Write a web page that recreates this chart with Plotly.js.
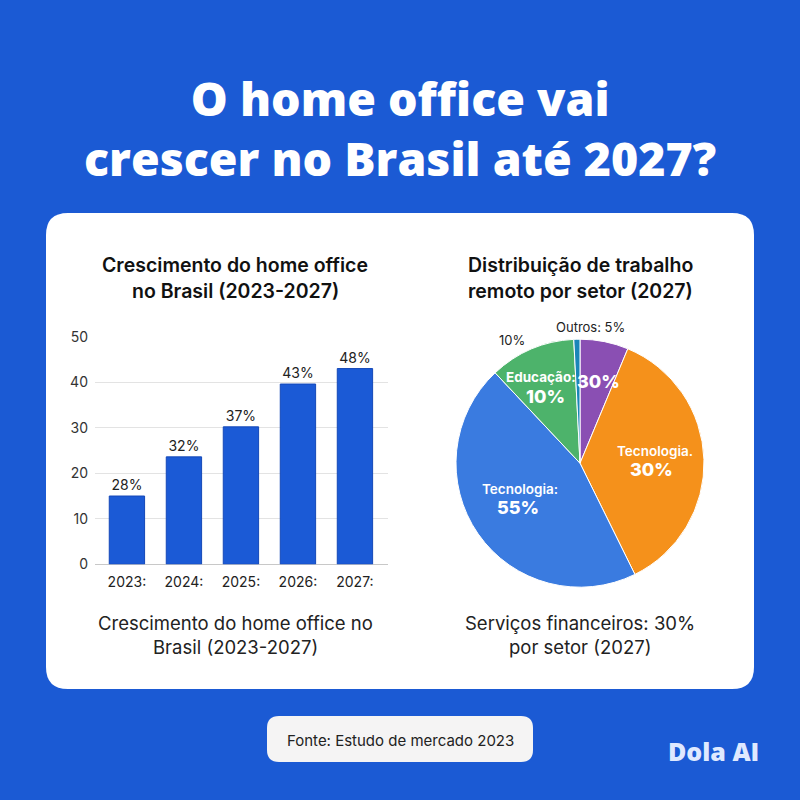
<!DOCTYPE html>
<html><head><meta charset="utf-8">
<script src="https://cdn.plot.ly/plotly-3.0.1.min.js"></script>
<style>html,body{margin:0;padding:0;background:#1b5ad4;}#chart{width:800px;height:800px;}</style>
</head><body><div id="chart"></div>
<script>
// Bar chart data
const years = ["2023:", "2024:", "2025:", "2026:", "2027:"];
const barValues = [15.0, 23.6, 30.2, 39.6, 43.0];
const barLabels = ["28%", "32%", "37%", "43%", "48%"];
const yTicks = [0, 10, 20, 30, 40, 50];

// Pie chart data
const sectors = ["Outros", "Tecnologia.", "Tecnologia:", "Educação:", "Outro setor"];
const sectorShares = [6.3, 36.4, 45.3, 11.2, 0.8];
const sectorColors = ["#8a4fb3", "#f5911b", "#3a7be0", "#4db36b", "#1a86b8"];

const FONT = "Inter, 'Open Sans', sans-serif";
const HEAVY = "'Open Sans', Inter, sans-serif";

const bar = {
  type: "bar", x: years, y: barValues, text: barLabels,
  textposition: "outside", cliponaxis: false,
  textfont: {family: FONT, size: 14, color: "#222"},
  marker: {color: "#1b5ad6", line: {color: "#1448b8", width: 1}},
  width: 0.62, xaxis: "x", yaxis: "y", hoverinfo: "none"
};
const pie = {
  type: "pie", labels: sectors, values: sectorShares, sort: false,
  direction: "clockwise", rotation: 0, textinfo: "none",
  marker: {colors: sectorColors, line: {color: "#ffffff", width: 1}},
  domain: {x: [0.57, 0.88], y: [0.266, 0.576]}, showlegend: false, hoverinfo: "none"
};

function ann(x, y, text, size, color, weight, family) {
  return {xref: "paper", yref: "paper", x: x / 800, y: 1 - y / 800,
    text: text, showarrow: false, xanchor: "center", yanchor: "middle",
    font: {family: family || FONT, size: size, color: color, weight: weight || 400}};
}

const annotations = [
  ann(400, 128, "O home office vai<br>crescer no Brasil até 2027?", 46.5, "#ffffff", 800, HEAVY),
  ann(235, 265, "Crescimento do home office", 19.5, "#111", 600),
  ann(235, 291, "no Brasil (2023-2027)", 19.5, "#111", 600),
  ann(580, 265, "Distribuição de trabalho", 19.5, "#111", 600),
  ann(580, 291, "remoto por setor (2027)", 19.5, "#111", 600),
  ann(235, 623, "Crescimento do home office no", 18.5, "#222", 400),
  ann(235, 647, "Brasil (2023-2027)", 18.5, "#222", 400),
  ann(580, 623, "Serviços financeiros: 30%", 18.5, "#222", 400),
  ann(580, 647, "por setor (2027)", 18.5, "#222", 400),
  ann(400, 740, "Fonte: Estudo de mercado 2023", 15, "#222", 400),
  ann(713, 751, "Dola AI", 25, "#dfe9ff", 800, HEAVY),
  // pie labels
  ann(590, 327, "Outros: 5%", 13, "#222", 400),
  ann(512, 340, "10%", 13, "#222", 400),
  ann(541, 377, "Educação:", 13.5, "#fff", 700),
  ann(545, 396, "10%", 18, "#fff", 800),
  ann(598, 381, "30%", 18, "#fff", 800),
  ann(655, 451, "Tecnologia.", 13.5, "#fff", 600),
  ann(651, 469, "30%", 18, "#fff", 800),
  ann(520, 489, "Tecnologia:", 13.5, "#fff", 600),
  ann(518, 507, "55%", 18, "#fff", 800)
];

function rrect(x0, y0, x1, y1, r) {
  const X = v => v / 800, Y = v => 1 - v / 800;
  return `M${X(x0 + r)},${Y(y0)} L${X(x1 - r)},${Y(y0)} Q${X(x1)},${Y(y0)} ${X(x1)},${Y(y0 + r)} L${X(x1)},${Y(y1 - r)} Q${X(x1)},${Y(y1)} ${X(x1 - r)},${Y(y1)} L${X(x0 + r)},${Y(y1)} Q${X(x0)},${Y(y1)} ${X(x0)},${Y(y1 - r)} L${X(x0)},${Y(y0 + r)} Q${X(x0)},${Y(y0)} ${X(x0 + r)},${Y(y0)} Z`;
}

const layout = {
  width: 800, height: 800, margin: {l: 0, r: 0, t: 0, b: 0},
  paper_bgcolor: "#1b5ad4", plot_bgcolor: "rgba(0,0,0,0)",
  showlegend: false, font: {family: FONT},
  shapes: [
    {type: "path", xref: "paper", yref: "paper", path: rrect(46, 213, 754, 689, 22), fillcolor: "#ffffff", line: {width: 0}, layer: "below"},
    {type: "path", xref: "paper", yref: "paper", path: rrect(267, 716, 533, 762, 12), fillcolor: "#f5f4f4", line: {width: 0}, layer: "below"}
  ],
  xaxis: {domain: [95 / 800, 388 / 800], anchor: "y", range: [-0.56, 4.58],
    showgrid: false, zeroline: false, showline: false, ticks: "",
    tickfont: {family: FONT, size: 14, color: "#222"}, ticklabelstandoff: 8, fixedrange: true},
  yaxis: {domain: [1 - 564.3 / 800, 1 - 336.7 / 800], anchor: "x", range: [0, 50],
    tickvals: yTicks, showgrid: true, gridcolor: "#e3e3e3", gridwidth: 1,
    zeroline: true, zerolinecolor: "#c8c8c8", zerolinewidth: 1.5, showline: false,
    tickfont: {family: FONT, size: 14, color: "#333"}, ticklabelstandoff: 6, fixedrange: true},
  annotations: annotations
};

Plotly.newPlot("chart", [bar, pie], layout, {displayModeBar: false, staticPlot: true});
</script></body></html>
